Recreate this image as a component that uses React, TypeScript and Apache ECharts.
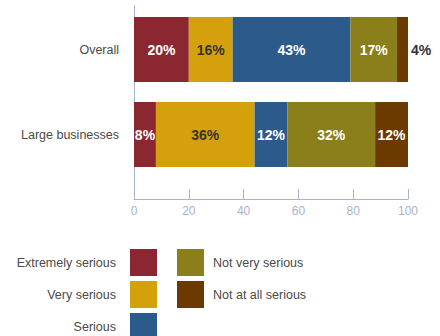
import React, { useEffect, useRef } from "react";
import * as echarts from "echarts";

const categories = ["Overall", "Large businesses"];
const seriesNames = [
  "Extremely serious",
  "Very serious",
  "Serious",
  "Not very serious",
  "Not at all serious",
];
const extremelySerious = [20, 8];
const verySerious = [16, 36];
const serious = [43, 12];
const notVerySerious = [17, 32];
const notAtAllSerious = [4, 12];
const xTicks = [0, 20, 40, 60, 80, 100];

const colors = ["#8B2730", "#D4A00C", "#2C5A8A", "#8A7F1A", "#6A3A00"];
const labelColors = ["#ffffff", "#3a3428", "#ffffff", "#ffffff", "#ffffff"];
const axisColor = "#A9B1CC";
const textColor = "#4a4a4a";
const FONT = "Liberation Sans";

export default function App() {
  const ref = useRef<HTMLDivElement>(null);
  useEffect(() => {
    if (!ref.current) return;
    const chart = echarts.init(ref.current, undefined, { renderer: "svg" });
    const allValues = [extremelySerious, verySerious, serious, notVerySerious, notAtAllSerious];
    const series = allValues.map((vals, i) => ({
      name: seriesNames[i],
      type: "bar",
      stack: "total",
      barWidth: 65,
      itemStyle: { color: colors[i] },
      label: {
        show: true,
        position: "inside",
        formatter: "{c}%",
        color: labelColors[i],
        fontFamily: FONT,
        fontSize: 14,
        fontWeight: "bold",
      },
      data: vals.map((v) =>
        v < 6
          ? { value: v, label: { position: "right", distance: 3, color: "#333333" } }
          : v
      ),
    }));
    const legendBase = {
      orient: "vertical",
      padding: 0,
      itemGap: 5,
      itemWidth: 27,
      itemHeight: 27,
      icon: "rect",
      selectedMode: false,
    };
    const leftLegends = seriesNames.slice(0, 3).map((name, i) => ({
      ...legendBase,
      data: [name],
      align: "right",
      right: 283,
      top: 249 + i * 32,
      textStyle: { color: textColor, fontSize: 12.5, fontFamily: FONT, padding: [0, 9, 0, 0] },
    }));
    chart.setOption({
      animation: false,
      textStyle: { fontFamily: FONT },
      grid: { left: 134, right: 32, top: 7, height: 170, containLabel: false },
      xAxis: {
        type: "value",
        min: xTicks[0],
        max: xTicks[xTicks.length - 1],
        interval: 20,
        offset: 22,
        splitLine: { show: false },
        axisLine: { show: true, lineStyle: { color: axisColor, width: 1 } },
        axisTick: { show: true, inside: true, length: 10, lineStyle: { color: axisColor } },
        axisLabel: { color: axisColor, fontSize: 12, fontFamily: FONT, margin: 6 },
      },
      yAxis: {
        type: "category",
        inverse: true,
        data: categories,
        axisLine: { show: false },
        axisTick: { show: false },
        axisLabel: { color: textColor, fontSize: 12.5, fontFamily: FONT, margin: 15 },
      },
      legend: [
        ...leftLegends,
        {
          ...legendBase,
          data: seriesNames.slice(3),
          align: "left",
          left: 177,
          top: 249,
          textStyle: { color: textColor, fontSize: 12.5, fontFamily: FONT, padding: [0, 0, 0, 4] },
        },
      ],
      graphic: [
        {
          type: "line",
          shape: { x1: 134.5, y1: 5, x2: 134.5, y2: 199 },
          style: { stroke: axisColor, lineWidth: 1 },
          silent: true,
        },
      ],
      series,
    });
    return () => chart.dispose();
  }, []);
  return <div ref={ref} style={{ width: 440, height: 336, position: "absolute", left: 0, top: 0 }} />;
}
